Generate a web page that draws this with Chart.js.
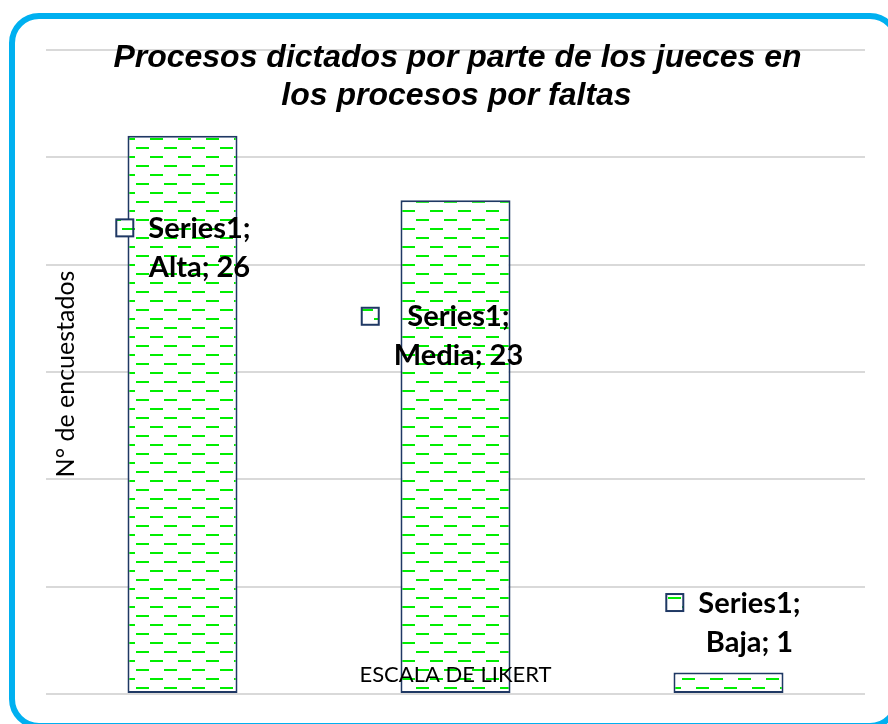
<!DOCTYPE html>
<html>
<head>
<meta charset="utf-8">
<script src="https://cdn.jsdelivr.net/npm/chart.js@4/dist/chart.umd.min.js"></script>
<style>
    html, body { margin: 0; padding: 0; overflow: hidden; background: #fff; width: 888px; height: 724px; }
    #frame {
        position: absolute; left: 9px; top: 13px; width: 891px; height: 716px;
        box-sizing: border-box; border: 6px solid #00b0f0; border-radius: 30px;
    }
    #chart { position: absolute; left: 0; top: 0; }
</style>
</head>
<body>
<div id="frame"></div>
<canvas id="chart" width="888" height="724"></canvas>
<script>
/* Procesos dictados por parte de los jueces — bar chart */
var seriesName = "Series1";
var categories = ["Alta", "Media", "Baja"];
var values = [26, 23, 1];
var yMin = 0;
var yMax = 30;
var yStep = 5;
var titleLines = ["Procesos dictados por parte de los jueces en", "los procesos por faltas"];
var xTitle = "ESCALA DE LIKERT";
var yTitle = "N\u00b0 de encuestados";

(function () {
    "use strict";

    var NAVY = "#1f3864";
    var GREEN = "#00ee00";

    // white fill with staggered green dashes
    function makePattern() {
        var c = document.createElement("canvas");
        c.width = 28;
        c.height = 18;
        var g = c.getContext("2d");
        g.fillStyle = "#fff";
        g.fillRect(0, 0, 28, 18);
        g.fillStyle = GREEN;
        g.fillRect(10, 12, 13, 2);
        g.fillRect(24, 3, 4, 2);
        g.fillRect(0, 3, 9, 2);
        return g.createPattern(c, "repeat");
    }

    var pattern = makePattern();

    // label placement relative to bar top-centre (dx, dy of first baseline)
    var labelPlace = [
        { dx: 17, dy: 102 },
        { dx: 3, dy: 126 },
        { dx: 21, dy: -60 }
    ];

    var decorPlugin = {
        id: "decor",
        afterDraw: function (chart) {
            var ctx = chart.ctx;
            var area = chart.chartArea;
            var meta = chart.getDatasetMeta(0);
            ctx.save();

            /* data labels with legend key */
            ctx.font = "bold 29px Lato, sans-serif";
            ctx.fillStyle = "#000";
            ctx.textAlign = "center";
            ctx.textBaseline = "alphabetic";
            meta.data.forEach(function (bar, i) {
                var p = labelPlace[i];
                var cx = bar.x + p.dx;
                var by = bar.y + p.dy;
                var l1 = seriesName + ";";
                var l2 = categories[i] + "; " + values[i];
                ctx.fillText(l1, cx, by);
                ctx.fillText(l2, cx, by + 39);
                var w = Math.max(ctx.measureText(l1).width, ctx.measureText(l2).width);
                var kx = cx - w / 2 - 15 - 17;
                var ky = by - 10 - 8.5;
                ctx.fillStyle = pattern;
                ctx.fillRect(kx, ky, 17, 17);
                ctx.strokeStyle = NAVY;
                ctx.lineWidth = 2;
                ctx.strokeRect(kx, ky, 17, 17);
                ctx.fillStyle = "#000";
            });

            /* chart title */
            var midX = (area.left + area.right) / 2;
            ctx.font = "italic bold 32px 'Liberation Sans', Arial, sans-serif";
            ctx.fillText(titleLines[0], midX + 2, 67);
            ctx.fillText(titleLines[1], midX + 1, 105);

            /* axis titles */
            ctx.font = "22px Lato, sans-serif";
            ctx.textBaseline = "middle";
            ctx.fillText(xTitle, midX, 675);
            ctx.font = "25px Lato, sans-serif";
            ctx.translate(66, (area.top + area.bottom) / 2 + 2);
            ctx.rotate(-Math.PI / 2);
            ctx.fillText(yTitle, 0, 0);
            ctx.restore();
        }
    };

    new Chart(document.getElementById("chart").getContext("2d"), {
        type: "bar",
        data: {
            labels: categories,
            datasets: [{
                label: seriesName,
                data: values,
                backgroundColor: pattern,
                borderColor: NAVY,
                borderWidth: 2,
                borderSkipped: false,
                barPercentage: 0.403,
                categoryPercentage: 1
            }]
        },
        options: {
            responsive: false,
            animation: false,
            layout: { padding: { left: 46, right: 23, top: 50, bottom: 30 } },
            plugins: {
                legend: { display: false },
                title: { display: false },
                tooltip: { enabled: false }
            },
            scales: {
                x: { display: false },
                y: {
                    min: yMin,
                    max: yMax,
                    ticks: { display: false, stepSize: yStep },
                    grid: { color: "#d9d9d9", lineWidth: 2, drawTicks: false },
                    border: { display: false },
                    afterFit: function (scale) { scale.width = 0; }
                }
            }
        },
        plugins: [decorPlugin]
    });
})();
</script>
</body>
</html>
